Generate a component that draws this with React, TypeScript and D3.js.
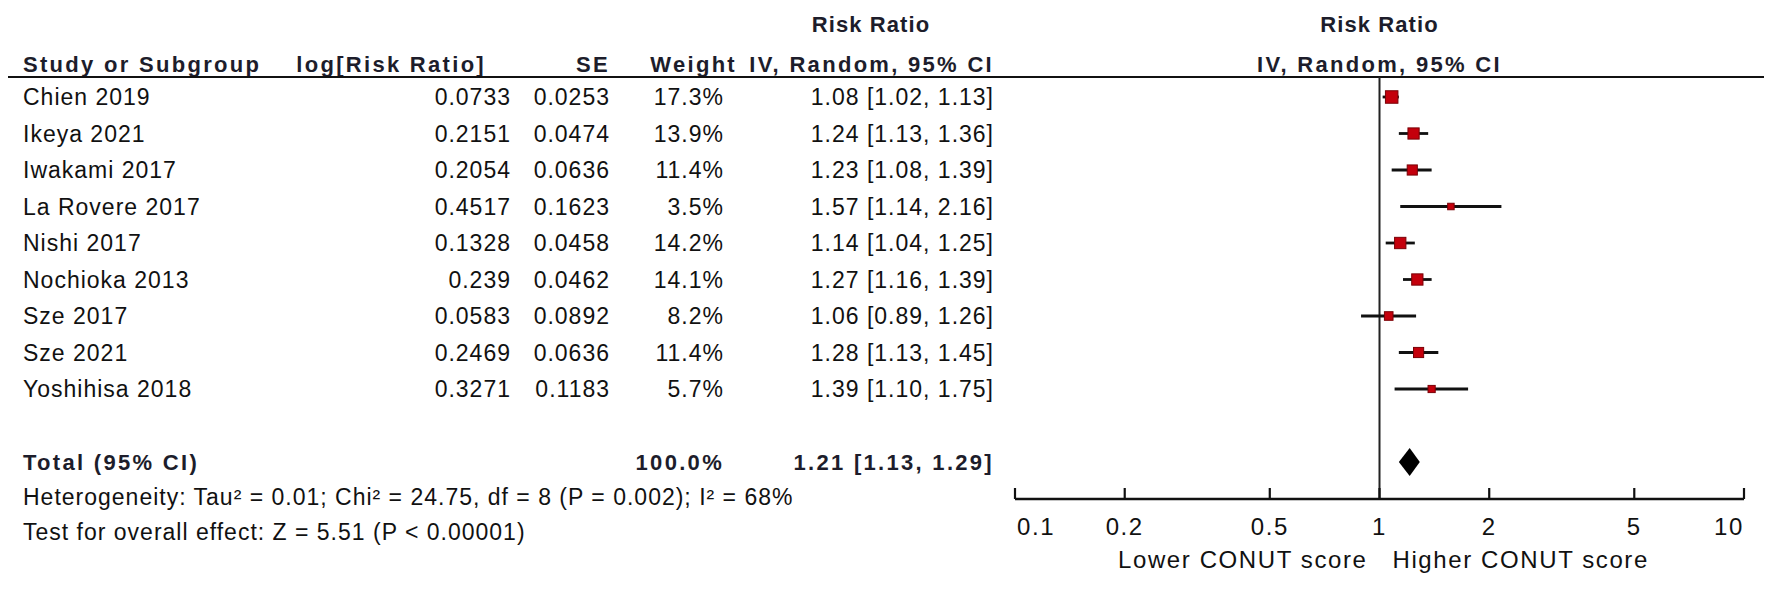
import React from "react";
import * as d3 from "d3";

// study data
const studies = ["Chien 2019", "Ikeya 2021", "Iwakami 2017", "La Rovere 2017", "Nishi 2017", "Nochioka 2013", "Sze 2017", "Sze 2021", "Yoshihisa 2018"];
const logRR = ["0.0733", "0.2151", "0.2054", "0.4517", "0.1328", "0.239", "0.0583", "0.2469", "0.3271"];
const seVals = ["0.0253", "0.0474", "0.0636", "0.1623", "0.0458", "0.0462", "0.0892", "0.0636", "0.1183"];
const weights = [17.3, 13.9, 11.4, 3.5, 14.2, 14.1, 8.2, 11.4, 5.7];
const rr = [1.08, 1.24, 1.23, 1.57, 1.14, 1.27, 1.06, 1.28, 1.39];
const ciLow = [1.02, 1.13, 1.08, 1.14, 1.04, 1.16, 0.89, 1.13, 1.10];
const ciHigh = [1.13, 1.36, 1.39, 2.16, 1.25, 1.39, 1.26, 1.45, 1.75];

const total = { rr: 1.21, lo: 1.13, hi: 1.29, weight: "100.0%" };
const axisTicks = [0.1, 0.2, 0.5, 1, 2, 5, 10];

const heterogeneityText = "Heterogeneity: Tau\u00B2 = 0.01; Chi\u00B2 = 24.75, df = 8 (P = 0.002); I\u00B2 = 68%";
const overallText = "Test for overall effect: Z = 5.51 (P < 0.00001)";

const W = 1772;
const H = 594;
const font = "'Liberation Sans', Arial, sans-serif";

const fmtCI = (a: number, l: number, h: number) => `${a.toFixed(2)} [${l.toFixed(2)}, ${h.toFixed(2)}]`;

export default function App() {
  const x = d3.scaleLog().domain([0.1, 10]).range([1015, 1744]);
  // row positions: 9 studies, blank row, total
  const y = d3.scalePoint<number>().domain(d3.range(11)).range([97, 462]);
  const side = d3.scaleSqrt().domain([0, 17.3]).range([0, 12.5]);

  const headerY = 72;
  const lineY = 77;
  const axisY = 499;

  const txt = { fontFamily: font, fontSize: 23, letterSpacing: 1, fill: "#111" } as const;
  const bold = { fontFamily: font, fontSize: 22, letterSpacing: 2.3, fontWeight: 700, fill: "#1d1d2b" } as const;
  const titleBold = { ...bold, letterSpacing: 1.1 } as const;
  const axTxt = { fontFamily: font, fontSize: 24, letterSpacing: 1.6, fill: "#111" } as const;

  return (
    <svg width={W} height={H} style={{ position: "absolute", left: 0, top: 0, background: "#fff" }}>
      {/* headers */}
      <text x={871} y={32} textAnchor="middle" {...titleBold}>Risk Ratio</text>
      <text x={x(1)} y={32} textAnchor="middle" {...titleBold}>Risk Ratio</text>
      <text x={23} y={headerY} {...bold}>Study or Subgroup</text>
      <text x={486} y={headerY} textAnchor="end" {...bold}>log[Risk Ratio]</text>
      <text x={610} y={headerY} textAnchor="end" {...bold}>SE</text>
      <text x={737} y={headerY} textAnchor="end" {...bold}>Weight</text>
      <text x={994} y={headerY} textAnchor="end" {...bold}>IV, Random, 95% CI</text>
      <text x={x(1)} y={headerY} textAnchor="middle" {...bold}>IV, Random, 95% CI</text>
      <line x1={8} x2={1764} y1={lineY} y2={lineY} stroke="#111" strokeWidth={2} />

      {/* null line */}
      <line x1={x(1)} x2={x(1)} y1={lineY} y2={axisY} stroke="#222" strokeWidth={2} />

      {studies.map((s, i) => {
        const yc = y(i)!;
        const sz = Math.max(6.5, side(weights[i]));
        return (
          <g key={s}>
            <text x={23} y={yc} dy="0.36em" {...txt}>{s}</text>
            <text x={511} y={yc} dy="0.36em" textAnchor="end" {...txt}>{logRR[i]}</text>
            <text x={610} y={yc} dy="0.36em" textAnchor="end" {...txt}>{seVals[i]}</text>
            <text x={724} y={yc} dy="0.36em" textAnchor="end" {...txt}>{weights[i].toFixed(1)}%</text>
            <text x={994} y={yc} dy="0.36em" textAnchor="end" {...txt}>{fmtCI(rr[i], ciLow[i], ciHigh[i])}</text>
            <line x1={x(ciLow[i])} x2={x(ciHigh[i])} y1={yc} y2={yc} stroke="#111" strokeWidth={2.8} />
            <rect x={x(rr[i]) - sz / 2} y={yc - sz / 2} width={sz} height={sz} fill="#c4000c" stroke="#7a0006" strokeWidth={1} />
          </g>
        );
      })}

      {/* total */}
      <text x={23} y={y(10)!} dy="0.36em" {...bold}>Total (95% CI)</text>
      <text x={724} y={y(10)!} dy="0.36em" textAnchor="end" {...bold}>{total.weight}</text>
      <text x={994} y={y(10)!} dy="0.36em" textAnchor="end" {...bold}>{fmtCI(total.rr, total.lo, total.hi)}</text>
      <path
        d={`M${x(total.lo)},${y(10)} L${x(total.rr)},${y(10)! - 14} L${x(total.hi)},${y(10)} L${x(total.rr)},${y(10)! + 14} Z`}
        fill="#000"
      />

      <text x={23} y={497} dy="0.36em" {...txt}>{heterogeneityText}</text>
      <text x={23} y={532} dy="0.36em" {...txt}>{overallText}</text>

      {/* axis */}
      <line x1={x(0.1)} x2={x(10)} y1={axisY} y2={axisY} stroke="#111" strokeWidth={2.6} />
      {axisTicks.map((t, i) => (
        <g key={t}>
          <line x1={x(t)} x2={x(t)} y1={axisY - 11} y2={axisY} stroke="#111" strokeWidth={2.2} />
          <text
            x={i === 0 ? x(t) + 2 : x(t)}
            y={526}
            dy="0.36em"
            textAnchor={i === 0 ? "start" : i === axisTicks.length - 1 ? "end" : "middle"}
            {...axTxt}
          >
            {String(t)}
          </text>
        </g>
      ))}
      <text x={x(1) - 12} y={559} dy="0.36em" textAnchor="end" {...axTxt}>Lower CONUT score</text>
      <text x={x(1) + 13} y={559} dy="0.36em" {...axTxt}>Higher CONUT score</text>
    </svg>
  );
}
